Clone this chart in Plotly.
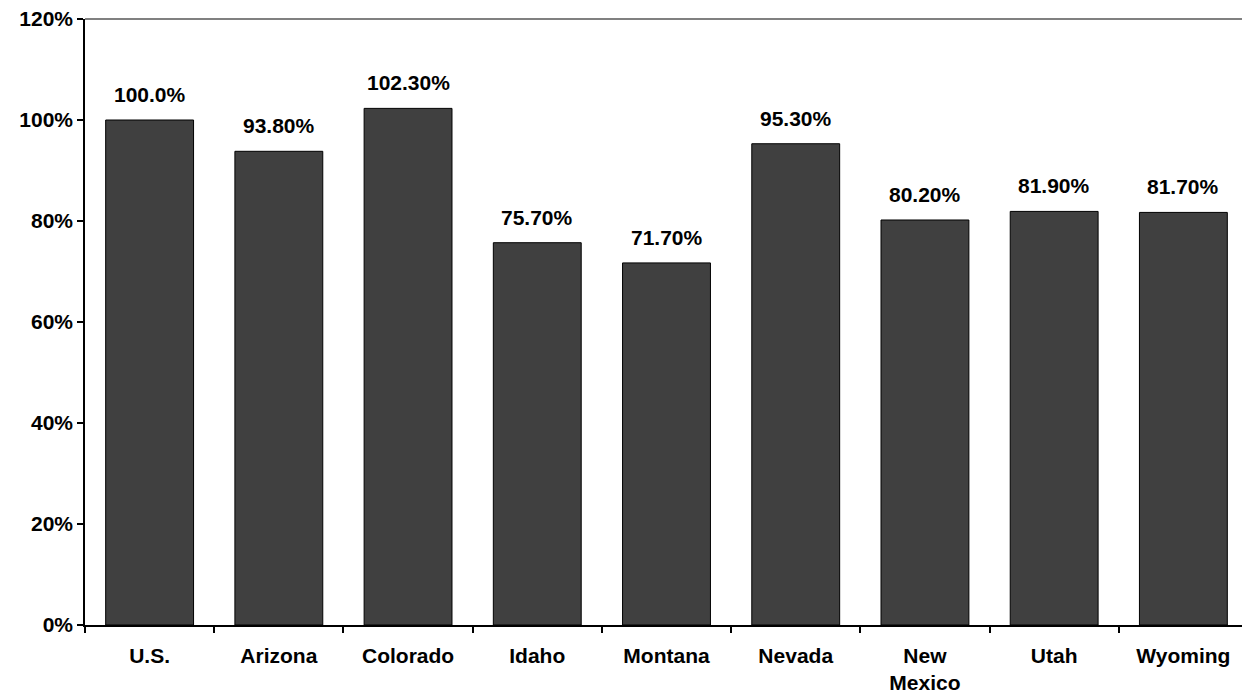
import plotly.graph_objects as go

# Values
states = ['U.S.', 'Arizona', 'Colorado', 'Idaho', 'Montana', 'Nevada',
          'New<br>Mexico', 'Utah', 'Wyoming']
values = [1.000, 0.938, 1.023, 0.757, 0.717, 0.953, 0.802, 0.819, 0.817]
labels = ['100.0%', '93.80%', '102.30%', '75.70%', '71.70%', '95.30%',
          '80.20%', '81.90%', '81.70%']

font_family = 'Liberation Sans, Arial, sans-serif'
bar_color = '#404040'

fig = go.Figure(go.Bar(
    x=states,
    y=values,
    marker={'color': bar_color, 'line': {'color': '#000000', 'width': 1}},
    hoverinfo='skip'))

# Value labels above the bars
for state, value, label in zip(states, values, labels):
    fig.add_annotation(x=state, y=value, text='<b>' + label + '</b>',
                       showarrow=False, yanchor='bottom', yshift=12,
                       font={'size': 21, 'color': '#000000'})

# Grey frame on top and right of the plot area
fig.add_shape(type='line', xref='paper', yref='paper', x0=0, x1=1, y0=1, y1=1,
              line={'color': '#808080', 'width': 2})
fig.add_shape(type='line', xref='paper', yref='paper', x0=1, x1=1, y0=0, y1=1,
              line={'color': '#808080', 'width': 2})

# The page body adds an 8px offset, so the figure is a bit smaller than the
# window.
fig.update_layout(
    width=1242, height=690,
    margin={'l': 77, 'r': 2, 't': 11, 'b': 73},
    paper_bgcolor='white', plot_bgcolor='white',
    font={'family': font_family, 'size': 21, 'color': '#000000'},
    bargap=0.32,
    showlegend=False,
    xaxis={'showline': True, 'linecolor': '#000000', 'linewidth': 1.5,
           'ticks': 'outside', 'ticklen': 6, 'tickcolor': '#000000',
           'tickwidth': 1.5, 'tickson': 'boundaries',
           'ticklabelstandoff': 11, 'automargin': False,
           'ticklabeloverflow': 'allow',
           'tickfont': {'size': 21, 'weight': 'bold'},
           'showgrid': False, 'fixedrange': True},
    yaxis={'range': [0, 1.2], 'dtick': 0.2, 'tickformat': '.0%',
           'showline': True, 'linecolor': '#000000', 'linewidth': 1.5,
           'ticks': 'outside', 'ticklen': 6, 'tickcolor': '#000000',
           'tickwidth': 1.5, 'showgrid': False, 'zeroline': False,
           'automargin': False, 'ticklabeloverflow': 'allow',
           'tickfont': {'size': 21, 'weight': 'bold'},
           'fixedrange': True},
)

fig.write_html('out.html')
